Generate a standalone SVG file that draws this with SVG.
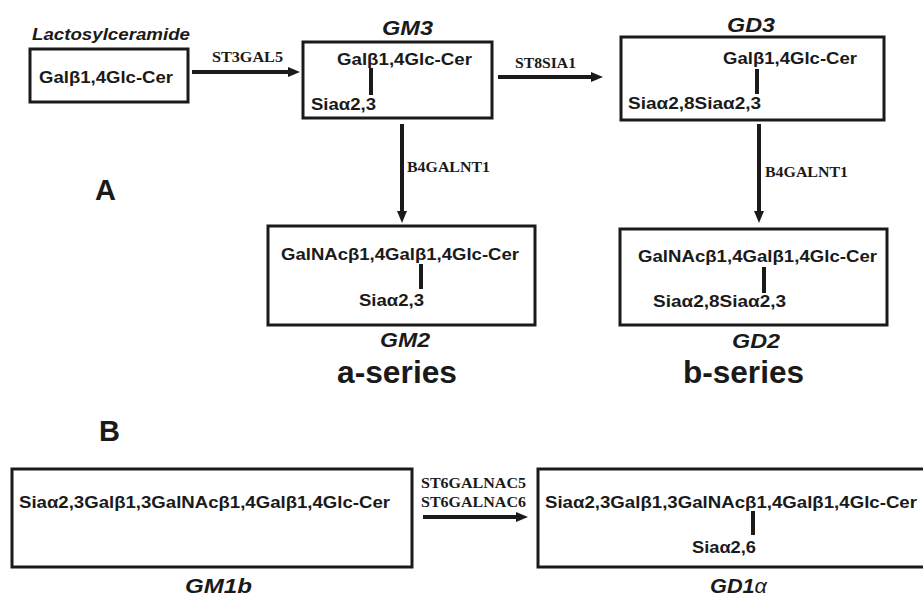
<svg xmlns="http://www.w3.org/2000/svg" width="923" height="598" viewBox="0 0 923 598">
<style>
text{font-family:"Liberation Sans",Arial,sans-serif;fill:#1a1a1a;font-weight:bold}
.t{font-size:17px}
.lbl{font-size:20px;font-style:italic}
.enz{font-family:"Liberation Serif","Times New Roman",serif;font-size:14.5px}
.ser{font-size:32px}
.big{font-size:29px}
.box{fill:#fff;stroke:#1a1a1a;stroke-width:3}
.bar{fill:#1a1a1a}
.arr{stroke:#1a1a1a;stroke-width:4;fill:none;marker-end:url(#ah)}
</style>
<defs>
<marker id="ah" viewBox="0 0 12 10" refX="2" refY="5" markerWidth="12" markerHeight="10" markerUnits="userSpaceOnUse" orient="auto">
<path d="M0,0 L12,5 L0,10 z" fill="#1a1a1a"/>
</marker>
</defs>
<rect width="923" height="598" fill="#fff"/>

<g id="connectors">
<line class="arr" x1="192" y1="72" x2="290" y2="72"/>
<text class="enz" x="212" y="62" textLength="71" lengthAdjust="spacingAndGlyphs">ST3GAL5</text>
<line class="arr" x1="498" y1="77" x2="593" y2="77"/>
<text class="enz" x="515" y="68" textLength="61" lengthAdjust="spacingAndGlyphs">ST8SIA1</text>
<line class="arr" x1="402" y1="124" x2="402" y2="213"/>
<text class="enz" x="407" y="172" textLength="83" lengthAdjust="spacingAndGlyphs">B4GALNT1</text>
<line class="arr" x1="759" y1="124" x2="759" y2="213"/>
<text class="enz" x="765" y="177" textLength="83" lengthAdjust="spacingAndGlyphs">B4GALNT1</text>
<line class="arr" x1="423" y1="517" x2="518" y2="517"/>
<text class="enz" x="421" y="488" textLength="105" lengthAdjust="spacingAndGlyphs">ST6GALNAC5</text>
<text class="enz" x="421" y="507" textLength="105" lengthAdjust="spacingAndGlyphs">ST6GALNAC6</text>
</g>

<g id="lactosylceramide">
<text class="lbl" x="32" y="40" style="font-size:16px" textLength="158" lengthAdjust="spacingAndGlyphs">Lactosylceramide</text>
<rect class="box" x="30" y="49" width="158" height="53"/>
<text class="t" x="39" y="83" textLength="134" lengthAdjust="spacingAndGlyphs">Galβ1,4Glc-Cer</text>
</g>

<g id="gm3">
<text class="lbl" x="382" y="35" textLength="51" lengthAdjust="spacingAndGlyphs">GM3</text>
<rect class="box" x="303" y="42" width="189" height="76"/>
<text class="t" x="337" y="65" textLength="135" lengthAdjust="spacingAndGlyphs">Galβ1,4Glc-Cer</text>
<rect class="bar" x="369" y="68" width="4" height="27"/>
<text class="t" x="311" y="110" textLength="65" lengthAdjust="spacingAndGlyphs">Siaα2,3</text>
</g>

<g id="gd3">
<text class="lbl" x="727" y="32" textLength="48" lengthAdjust="spacingAndGlyphs">GD3</text>
<rect class="box" x="621" y="37" width="263" height="83"/>
<text class="t" x="723" y="64" textLength="134" lengthAdjust="spacingAndGlyphs">Galβ1,4Glc-Cer</text>
<rect class="bar" x="755" y="69" width="4" height="25"/>
<text class="t" x="628" y="109" textLength="133" lengthAdjust="spacingAndGlyphs">Siaα2,8Siaα2,3</text>
</g>

<g id="gm2">
<rect class="box" x="268" y="226" width="267" height="99"/>
<text class="t" x="281" y="260" textLength="238" lengthAdjust="spacingAndGlyphs">GalNAcβ1,4Galβ1,4Glc-Cer</text>
<rect class="bar" x="419" y="264" width="4" height="25"/>
<text class="t" x="359" y="306" textLength="65" lengthAdjust="spacingAndGlyphs">Siaα2,3</text>
<text class="lbl" x="380" y="347" textLength="50" lengthAdjust="spacingAndGlyphs">GM2</text>
<text class="ser" x="337" y="383" textLength="120" lengthAdjust="spacingAndGlyphs">a-series</text>
</g>

<g id="gd2">
<rect class="box" x="620" y="229" width="267" height="96"/>
<text class="t" x="638" y="262" textLength="239" lengthAdjust="spacingAndGlyphs">GalNAcβ1,4Galβ1,4Glc-Cer</text>
<rect class="bar" x="762" y="267" width="4" height="26"/>
<text class="t" x="653" y="307" textLength="133" lengthAdjust="spacingAndGlyphs">Siaα2,8Siaα2,3</text>
<text class="lbl" x="732" y="348" textLength="48" lengthAdjust="spacingAndGlyphs">GD2</text>
<text class="ser" x="683" y="383" textLength="121" lengthAdjust="spacingAndGlyphs">b-series</text>
</g>

<g id="labelA"><text class="big" x="95" y="200">A</text></g>
<g id="labelB"><text class="big" x="99" y="441">B</text></g>

<g id="gm1b">
<rect class="box" x="12" y="469" width="400" height="98"/>
<text class="t" x="19" y="508" textLength="371" lengthAdjust="spacingAndGlyphs">Siaα2,3Galβ1,3GalNAcβ1,4Galβ1,4Glc-Cer</text>
<text class="lbl" x="185" y="593" textLength="67" lengthAdjust="spacingAndGlyphs">GM1b</text>
</g>

<g id="gd1a">
<rect class="box" x="538" y="469" width="400" height="98"/>
<text class="t" x="545" y="508" textLength="372" lengthAdjust="spacingAndGlyphs">Siaα2,3Galβ1,3GalNAcβ1,4Galβ1,4Glc-Cer</text>
<rect class="bar" x="751" y="511" width="4" height="24"/>
<text class="t" x="692" y="553" textLength="64" lengthAdjust="spacingAndGlyphs">Siaα2,6</text>
<text class="lbl" x="710" y="593" textLength="57" lengthAdjust="spacingAndGlyphs">GD1<tspan style="font-weight:normal">α</tspan></text>
</g>
</svg>
